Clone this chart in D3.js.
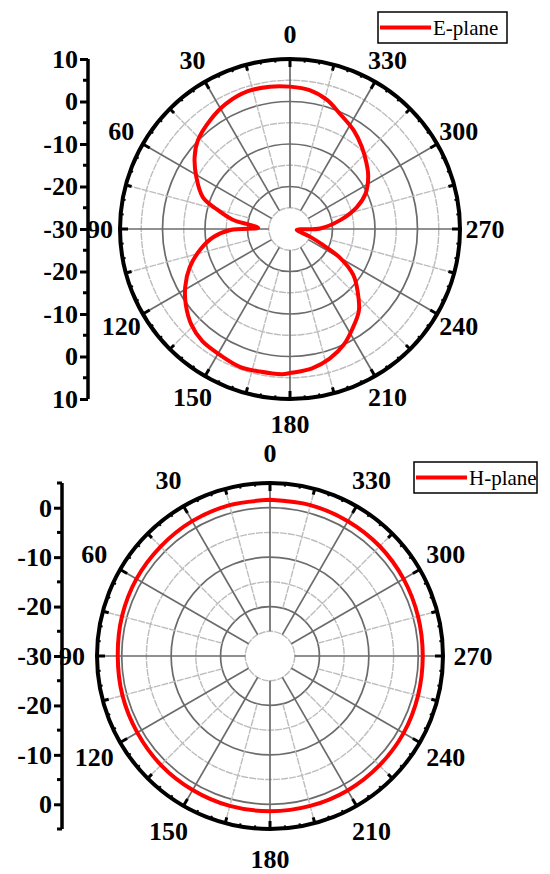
<!DOCTYPE html>
<html><head><meta charset="utf-8">
<script src="https://cdn.jsdelivr.net/npm/d3@7"></script>
<style>body{margin:0;background:#fff}svg{display:block}text{font-family:"Liberation Serif","Times New Roman",serif}</style>
</head><body>
<svg id="c" width="550" height="874"></svg>
<script>
// E-plane pattern (angle in degrees, gain in dB)
const eAngles = [0,8,17,27,36,46,53,61,70,75,81,84,88,91,96,103,111,119,126,134,142,151,160,168,177,180,189,197,205,212,220,227,234,240,244,249,262,268,271,280,288,295,304,311,319,327,337,344,352,360];
const eGain   = [3.5,3.8,3.9,3.1,1.8,0.1,-1.9,-4.8,-8.2,-12.2,-16.5,-20.5,-22.5,-16,-11.9,-8.3,-4.7,-1.8,0.3,2.3,3.5,3.9,4.5,4.3,4.2,3.9,3.2,1.9,0.0,-2.3,-4.8,-8.2,-11.6,-16.4,-21.3,-25,-28.4,-27.6,-22.9,-18,-13.5,-10.4,-7.8,-6.2,-4.3,-2.4,-0.35,1.6,3.0,3.5];
// H-plane pattern
const hAngles = [0,15,30,45,60,75,90,105,120,135,150,165,180,195,210,225,240,255,270,285,300,315,330,345,360];
const hGain   = [1.6,1.6,1.5,1.3,1.2,1.0,0.8,0.9,1.0,1.2,1.3,1.4,1.4,1.4,1.4,1.3,1.2,1.0,0.9,1.0,1.2,1.4,1.5,1.6,1.6];
const angleLabels = [0,30,60,90,120,150,180,210,240,270,300,330];

const svg = d3.select("#c");
const FONT = '"Liberation Serif","Times New Roman",serif';

function polar(cfg){
  const g = svg.append("g");
  const {cx, cy, R, min, max, angles, gains, name, legX, legY, axisX} = cfg;
  const r = d3.scaleLinear().domain([min, max]).range([0, R]);
  const toXY = (deg, rad) => [cx - rad*Math.sin(deg*Math.PI/180), cy - rad*Math.cos(deg*Math.PI/180)];
  const dark = "#6b6b6b", light = "#bdbdbd";
  // grid circles
  const circ = d3.range(-25, max, 5);
  g.selectAll(".gc").data(circ).join("circle")
    .attr("cx", cx).attr("cy", cy).attr("r", d => r(d)).attr("fill", "none")
    .attr("stroke", d => (d % 10 === 0) ? dark : light)
    .attr("stroke-width", d => (d % 10 === 0) ? 1.7 : 1.4)
    .attr("stroke-dasharray", d => (d % 10 === 0) ? null : "7,1");
  // spokes
  const spokes = d3.range(0, 360, 15);
  g.selectAll(".sp").data(spokes).join("line")
    .attr("x1", d => toXY(d, r(d % 30 === 0 ? -25 : -20))[0])
    .attr("y1", d => toXY(d, r(d % 30 === 0 ? -25 : -20))[1])
    .attr("x2", d => toXY(d, R)[0]).attr("y2", d => toXY(d, R)[1])
    .attr("stroke", d => d % 30 === 0 ? dark : light)
    .attr("stroke-width", d => d % 30 === 0 ? 1.7 : 1.4)
    .attr("stroke-dasharray", d => d % 30 === 0 ? null : "7,1");
  // outer circle
  g.append("circle").attr("cx", cx).attr("cy", cy).attr("r", R)
    .attr("fill", "none").attr("stroke", "#000").attr("stroke-width", 4);
  // ticks on outer circle
  const tk = d3.range(0, 360, 5);
  g.selectAll(".tk").data(tk).join("line")
    .attr("x1", d => toXY(d, R)[0]).attr("y1", d => toXY(d, R)[1])
    .attr("x2", d => toXY(d, R - (d % 30 === 0 ? 8 : d % 15 === 0 ? 6 : 3))[0])
    .attr("y2", d => toXY(d, R - (d % 30 === 0 ? 8 : d % 15 === 0 ? 6 : 3))[1])
    .attr("stroke", "#000").attr("stroke-width", d => d % 15 === 0 ? 3 : 2);
  // angle labels
  g.selectAll(".al").data(angleLabels).join("text")
    .attr("x", d => toXY(d, R + (d === 90 ? cfg.labOff - 5 : cfg.labOff))[0])
    .attr("y", d => toXY(d, R + cfg.labOff)[1])
    .attr("text-anchor", "middle").attr("dominant-baseline", "central")
    .attr("font-size", 26).attr("font-weight", "bold").text(d => d);
  // data line
  const line = d3.lineRadial().curve(d3.curveCatmullRom.alpha(0.5))
    .angle((d, i) => -angles[i]*Math.PI/180).radius(d => r(Math.max(min, d)));
  g.append("path").datum(gains).attr("d", line).attr("transform", `translate(${cx},${cy})`)
    .attr("fill", "none").attr("stroke", "#ff0000").attr("stroke-width", 4).attr("stroke-linejoin", "round");
  // left axis
  const span = max - min;
  const ys = d3.scaleLinear().domain([-span, span]).range([cy + R, cy - R]);
  const allMaj = d3.range(-Math.floor(span/10)*10, span + 0.1, 10);
  const minor = d3.range(-span, span + 0.1, 5).filter(t => !allMaj.includes(t));
  const ax = g.append("g").attr("transform", `translate(${axisX},0)`);
  ax.append("line").attr("x1", 0).attr("x2", 0).attr("y1", ys(-span)).attr("y2", ys(span))
    .attr("stroke", "#000").attr("stroke-width", 3.5);
  ax.call(d3.axisLeft(ys).tickValues(allMaj).tickSize(8).tickPadding(2).tickFormat(t => min + Math.abs(t)))
    .call(s => s.select(".domain").remove());
  ax.selectAll(".tick line").attr("stroke-width", 3);
  ax.selectAll(".tick text").attr("font-size", 26).attr("font-weight", "bold")
    .attr("font-family", FONT).attr("fill", "#000");
  ax.selectAll(".mn").data(minor).join("line").attr("x1", 0).attr("x2", -5)
    .attr("y1", d => ys(d)).attr("y2", d => ys(d)).attr("stroke", "#000").attr("stroke-width", 3);
  // legend
  const lg = g.append("g").attr("transform", `translate(${legX},${legY})`);
  lg.append("rect").attr("x", 0).attr("y", 0).attr("width", cfg.legW).attr("height", 31)
    .attr("fill", "#fff").attr("stroke", "#000").attr("stroke-width", 1.5);
  lg.append("line").attr("x1", 2).attr("x2", 53).attr("y1", 15.5).attr("y2", 15.5)
    .attr("stroke", "#ff0000").attr("stroke-width", 4);
  lg.append("text").attr("x", 55).attr("y", 23).attr("font-size", 21).text(name);
}

polar({cx: 290, cy: 229, R: 170, min: -30, max: 10, angles: eAngles, gains: eGain, name: "E-plane",
       legX: 378, legY: 12, legW: 129, axisX: 88, labOff: 25});
polar({cx: 270, cy: 656, R: 173, min: -30, max: 5, angles: hAngles, gains: hGain, name: "H-plane",
       legX: 414, legY: 462, legW: 123, axisX: 62, labOff: 30});
</script>
</body></html>
